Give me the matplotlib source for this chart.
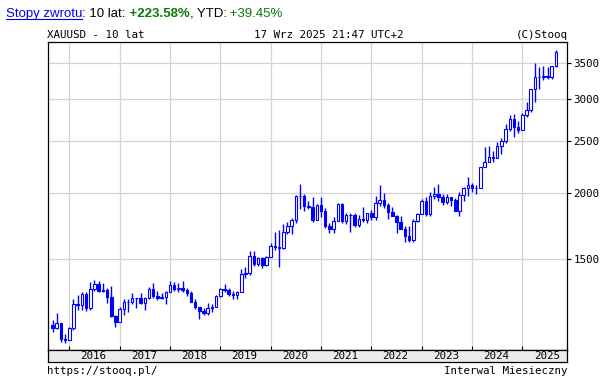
import numpy as np
import pandas as pd
import matplotlib
matplotlib.use("Agg")
import matplotlib.pyplot as plt
from matplotlib.patches import Rectangle
from matplotlib.ticker import NullLocator, FixedLocator, FixedFormatter

# monthly XAUUSD candles, Sep 2015 .. Sep 2025
months = pd.date_range("2015-09-01", periods=121, freq="MS")

opens = [1132, 1115, 1142, 1065,
         1061, 1118, 1238, 1233, 1293, 1214, 1322, 1351, 1309, 1316, 1277, 1173,
         1146, 1211, 1249, 1250, 1268, 1269, 1242, 1269, 1322, 1280, 1271, 1275,
         1303, 1345, 1318, 1325, 1315, 1298, 1250, 1224, 1201, 1192, 1215, 1222,
         1282, 1321, 1313, 1292, 1284, 1305, 1409, 1413, 1520, 1472, 1512, 1464,
         1517, 1589, 1585, 1577, 1687, 1730, 1781, 1975, 1968, 1886, 1879, 1776,
         1898, 1847, 1734, 1708, 1769, 1907, 1770, 1814, 1813, 1743, 1783, 1774,
         1829, 1797, 1909, 1937, 1897, 1837, 1807, 1765, 1711, 1661, 1633, 1768,
         1824, 1928, 1827, 1969, 1990, 1963, 1919, 1965, 1940, 1849, 1983, 2036,
         2063, 2040, 2044, 2230, 2286, 2327, 2326, 2448, 2503, 2634, 2744, 2657,
         2624, 2798, 2858, 3124, 3288, 3289, 3303, 3289, 3448]
highs = [1157, 1191, 1142, 1088,
         1123, 1263, 1287, 1304, 1303, 1362, 1375, 1367, 1352, 1326, 1338, 1180,
         1220, 1264, 1262, 1296, 1270, 1296, 1275, 1331, 1357, 1306, 1299, 1309,
         1366, 1361, 1356, 1365, 1326, 1309, 1265, 1224, 1214, 1243, 1237, 1284,
         1326, 1347, 1324, 1310, 1306, 1439, 1452, 1555, 1557, 1517, 1515, 1525,
         1611, 1689, 1704, 1747, 1765, 1789, 1981, 2075, 1992, 1933, 1965, 1906,
         1959, 1872, 1755, 1797, 1913, 1916, 1834, 1832, 1834, 1814, 1877, 1831,
         1853, 1974, 2070, 1998, 1910, 1879, 1814, 1808, 1735, 1730, 1786, 1833,
         1949, 1959, 2009, 2049, 2079, 1984, 1987, 1966, 1953, 2009, 2052, 2135,
         2088, 2065, 2236, 2431, 2450, 2388, 2484, 2531, 2685, 2790, 2801, 2726,
         2817, 2956, 3128, 3500, 3435, 3452, 3439, 3453, 3703]
lows = [1098, 1111, 1052, 1046,
        1061, 1108, 1208, 1207, 1200, 1208, 1310, 1302, 1302, 1241, 1171, 1123,
        1146, 1180, 1195, 1240, 1214, 1236, 1204, 1267, 1271, 1261, 1264, 1236,
        1302, 1307, 1303, 1302, 1282, 1246, 1211, 1160, 1180, 1182, 1196, 1221,
        1276, 1302, 1280, 1266, 1266, 1301, 1382, 1400, 1459, 1459, 1445, 1455,
        1517, 1563, 1451, 1568, 1670, 1671, 1758, 1863, 1849, 1860, 1764, 1776,
        1802, 1717, 1677, 1678, 1766, 1751, 1750, 1688, 1721, 1722, 1759, 1753,
        1780, 1781, 1890, 1872, 1787, 1805, 1681, 1709, 1615, 1617, 1616, 1765,
        1823, 1805, 1810, 1949, 1932, 1893, 1903, 1885, 1847, 1810, 1931, 1973,
        2002, 1984, 2039, 2229, 2277, 2286, 2319, 2364, 2472, 2604, 2536, 2583,
        2614, 2772, 2833, 2957, 3120, 3247, 3268, 3268, 3436]
closes = [1115, 1142, 1065, 1061,
          1118, 1238, 1233, 1293, 1214, 1322, 1351, 1309, 1316, 1277, 1173, 1146,
          1211, 1249, 1250, 1268, 1269, 1242, 1269, 1322, 1280, 1271, 1275, 1303,
          1345, 1318, 1325, 1315, 1298, 1250, 1224, 1201, 1192, 1215, 1222, 1282,
          1321, 1313, 1292, 1284, 1305, 1409, 1413, 1520, 1472, 1512, 1464, 1517,
          1589, 1585, 1577, 1687, 1730, 1781, 1975, 1968, 1886, 1879, 1776, 1898,
          1847, 1734, 1708, 1769, 1907, 1770, 1814, 1813, 1743, 1783, 1774, 1829,
          1797, 1909, 1937, 1897, 1837, 1807, 1765, 1711, 1661, 1633, 1768, 1824,
          1928, 1827, 1969, 1990, 1963, 1919, 1965, 1940, 1849, 1983, 2036, 2063,
          2040, 2044, 2230, 2286, 2327, 2326, 2448, 2503, 2634, 2744, 2657, 2624,
          2798, 2858, 3124, 3288, 3289, 3303, 3289, 3448, 3660]

price_ticks = [1500, 2000, 2500, 3000, 3500]
years = list(range(2016, 2026))

BLUE = "#0000ff"
MONO = "DejaVu Sans Mono"
W, H = 604, 380


def fx(px):
    return px / W


def fy(py):
    return 1 - py / H


fig = plt.figure(figsize=(W / 100, H / 100), dpi=100)

left, right, top, bottom = 47.7, 567.0, 42.0, 350.0
ax = fig.add_axes([fx(left), fy(bottom), fx(right - left), (bottom - top) / H])
band = fig.add_axes([fx(left), fy(362), fx(right - left), 12 / H])

xs = np.arange(len(months))
jan_idx = [i for i, m in enumerate(months) if m.month == 1]

# candles
bw = 0.6
for x, o, h, l, c in zip(xs, opens, highs, lows, closes):
    ax.plot([x, x], [l, h], color=BLUE, lw=1.0, zorder=3, solid_capstyle="butt")
    lo, hi = min(o, c), max(o, c)
    if hi - lo < 1:
        ax.plot([x - bw / 2, x + bw / 2], [o, o], color=BLUE, lw=1.0, zorder=4)
        continue
    face = "white" if c > o else BLUE
    ax.add_patch(Rectangle((x - bw / 2, lo), bw, hi - lo, facecolor=face,
                           edgecolor=BLUE, lw=0.8, zorder=4))

ax.set_yscale("log")
ax.set_ylim(1015, 3827)
ax.set_xlim(-1.15, 122.64)
ax.yaxis.set_major_locator(FixedLocator(price_ticks))
ax.yaxis.set_major_formatter(FixedFormatter([str(p) for p in price_ticks]))
ax.yaxis.set_minor_locator(NullLocator())
ax.xaxis.set_major_locator(FixedLocator(jan_idx))
ax.xaxis.set_minor_locator(NullLocator())
ax.tick_params(axis="y", which="both", left=False, labelleft=False, right=True,
               labelright=True, direction="out", length=3, width=0.8, pad=1.5,
               labelsize=7.8, labelfontfamily=MONO)
ax.tick_params(axis="x", direction="in", length=3, width=0.8, labelbottom=False)
ax.grid(True, color="#d3d3d3", lw=0.9, zorder=0)
for s in ax.spines.values():
    s.set_linewidth(0.9)

band.set_facecolor("#ebebeb")
band.set_xlim(ax.get_xlim())
band.set_yticks([])
band.set_xticks([])
for s in band.spines.values():
    s.set_linewidth(0.9)
for y, j in zip(years, jan_idx):
    band.text(j + 5.8, 0.5, str(y), ha="center", va="center", fontsize=7.8,
              family=MONO, transform=band.get_xaxis_transform())

# texts around the chart
fig.text(fx(47), fy(38.3), "XAUUSD - 10 lat", fontsize=7.8, family=MONO, va="baseline")
fig.text(fx(254), fy(38.3), "17 Wrz 2025 21:47 UTC+2", fontsize=7.8, family=MONO, va="baseline")
fig.text(fx(567.5), fy(38.3), "(C)Stooq", fontsize=7.8, family=MONO, va="baseline", ha="right")
fig.text(fx(47), fy(373.5), "https://stooq.pl/", fontsize=7.8, family=MONO, va="baseline")
fig.text(fx(567.5), fy(373.5), "Interwal Miesieczny", fontsize=7.8, family=MONO,
         va="baseline", ha="right")

# header with returns
renderer = fig.canvas.get_renderer()
parts = [("Stopy zwrotu", "#0000ee", "normal"),
         (": 10 lat:", "black", "normal"),
         (" +223.58%", "#0a7a0a", "bold"),
         (", YTD:", "black", "normal"),
         (" +39.45%", "#0a7a0a", "normal")]
xpos = 6.0
for i, (s, col, wt) in enumerate(parts):
    t = fig.text(fx(xpos), fy(17), s, color=col, fontweight=wt, fontsize=9.5,
                 family="Liberation Sans", va="baseline")
    bb = t.get_window_extent(renderer)
    if i == 0:
        fig.add_artist(plt.Line2D([fx(6), fx(bb.x1)], [fy(18.5), fy(18.5)],
                                  color="#0000ee", lw=0.8, transform=fig.transFigure))
    xpos = bb.x1

fig.savefig("out.png", dpi=100)
